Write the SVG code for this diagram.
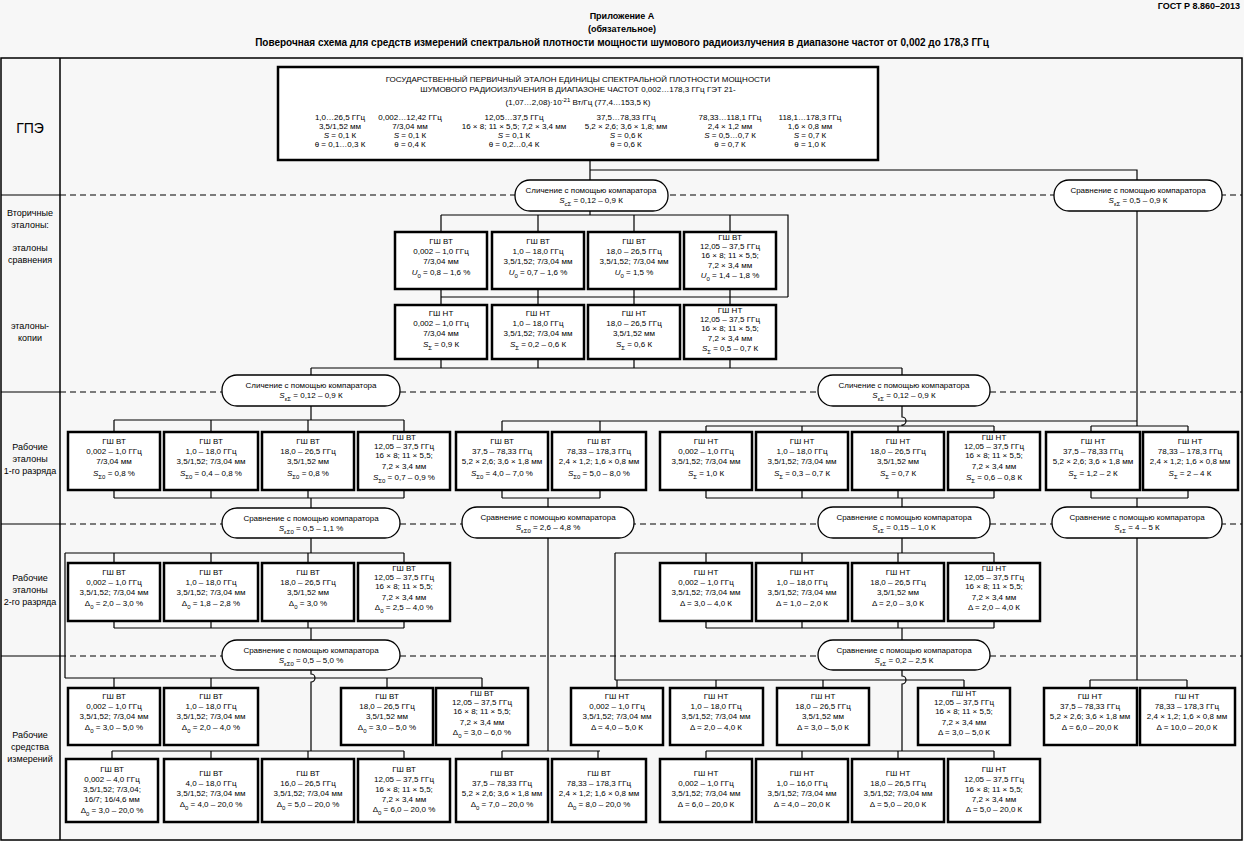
<svg xmlns="http://www.w3.org/2000/svg" width="1244" height="841" viewBox="0 0 1244 841">
<style>
text{font-family:"Liberation Sans",Arial,sans-serif;fill:#000}
.t{font-size:8px;text-anchor:middle}
.h{font-size:9px;font-weight:bold;text-anchor:middle}
.l{font-size:9px;text-anchor:middle}
.s{font-size:6px;baseline-shift:sub}
.u{font-size:6px;baseline-shift:super}
.i{font-style:italic}
.b{fill:#fff;stroke:#000;stroke-width:2.5}
.p{fill:#fff;stroke:#000;stroke-width:1.3}
.c{fill:none;stroke:#000;stroke-width:1.2}
.d{fill:none;stroke:#000;stroke-width:1.2;stroke-dasharray:6 4}
.f{fill:none;stroke:#000;stroke-width:1.5}
</style>
<rect width="1244" height="841" fill="#f7f7f7"/>
<text x="1240" y="9" style="font-size:9px;font-weight:bold;text-anchor:end">ГОСТ Р 8.860–2013</text>
<text x="622" y="19" class="h">Приложение А</text>
<text x="622" y="32" class="h">(обязательное)</text>
<text x="622" y="46" class="h" style="font-size:10px">Поверочная схема для средств измерений спектральной плотности мощности шумового радиоизлучения в диапазоне частот от 0,002 до 178,3 ГГц</text>
<g id="frame">
<rect x="1" y="58" width="1241" height="782" class="f"/>
<line x1="60" y1="58" x2="60" y2="840" class="f"/>
<line x1="1" y1="195" x2="60" y2="195" class="c"/>
<line x1="1" y1="392" x2="60" y2="392" class="c"/>
<line x1="1" y1="524" x2="60" y2="524" class="c"/>
<line x1="1" y1="656" x2="60" y2="656" class="c"/>
<line x1="60" y1="195" x2="1242" y2="195" class="d"/>
<line x1="60" y1="392" x2="1242" y2="392" class="d"/>
<line x1="60" y1="524" x2="1242" y2="524" class="d"/>
<line x1="60" y1="656" x2="1242" y2="656" class="d"/>
<text x="30" y="133" style="font-size:14px;text-anchor:middle">ГПЭ</text>
<text x="30" y="216" class="l">Вторичные</text><text x="30" y="228" class="l">эталоны:</text>
<text x="30" y="251" class="l">эталоны</text><text x="30" y="263" class="l">сравнения</text>
<text x="30" y="329" class="l">эталоны-</text><text x="30" y="341" class="l">копии</text>
<text x="30" y="450" class="l">Рабочие</text><text x="30" y="462" class="l">эталоны</text><text x="30" y="474" class="l">1-го разряда</text>
<text x="30" y="581" class="l">Рабочие</text><text x="30" y="593" class="l">эталоны</text><text x="30" y="605" class="l">2-го разряда</text>
<text x="30" y="738" class="l">Рабочие</text><text x="30" y="750" class="l">средства</text><text x="30" y="762" class="l">измерений</text>
</g>
<g id="connectors">
<path class="c" d="M590 160V180M590 170H1137V180"/>
<path class="c" d="M590 211V215M441 215H788V297M441 215V232M538 215V232M634 215V232M730 215V232M441 297H788M441 289V305M538 289V305M634 289V305M730 289V305"/>
<path class="c" d="M441 359V368M538 359V368M634 359V368M730 359V368M311 368H902M311 368V375M902 368V375"/>
<path class="c" d="M1137 211V426M502 421H1137M502 421V432M600 421V432M1091 426H1188M1091 426V432M1188 426V432"/>
<path class="c" d="M311 406V420M114 420H404M114 420V432M211 420V432M308 420V432M404 420V432"/>
<path class="c" d="M902 406V417A4 4 0 0 1 902 425V426M706 426H994M706 426V432M802 426V432M898 426V432M994 426V432"/>
<path class="c" d="M114 490V498M211 490V498M308 490V498M404 490V498M114 498H404M311 498V508"/>
<path class="c" d="M502 490V498M600 490V498M502 498H600M548 498V507"/>
<path class="c" d="M706 490V498M802 490V498M898 490V498M994 490V498M706 498H994M902 498V507"/>
<path class="c" d="M1091 490V498M1188 490V498M1091 498H1188M1137 498V507"/>
<path class="c" d="M311 538V553M65 553H404M114 553V563M211 553V563M308 553V563M404 553V563M65 553V678"/>
<path class="c" d="M114 621V628M211 621V628M308 621V628M404 621V628M114 628H404M311 628V640"/>
<path class="c" d="M311 670V674A4 4 0 0 1 311 682V751M65 678H482M114 678V688M211 678V688M387 678V688M482 678V688M112 751H404M112 751V759M211 751V759M308 751V759M404 751V759"/>
<path class="c" d="M548 538V751M502 751H600M502 751V759M598 751V759"/>
<path class="c" d="M902 538V553M615 553H994M706 553V563M802 553V563M898 553V563M994 553V563M615 553V680"/>
<path class="c" d="M706 621V628M802 621V628M898 621V628M994 621V628M706 628H994M902 628V640"/>
<path class="c" d="M902 670V676A4 4 0 0 1 902 684V751M615 680H964M617 680V688M716 680V688M823 680V688M964 680V688M706 751H994M706 751V759M802 751V759M898 751V759M994 751V759"/>
<path class="c" d="M1137 538V680M1090 680H1187M1090 680V688M1187 680V688"/>
</g>
<g id="gpe">
<rect x="278" y="67" width="600" height="93" class="b"/>
<text x="578" y="82" class="t">ГОСУДАРСТВЕННЫЙ ПЕРВИЧНЫЙ ЭТАЛОН ЕДИНИЦЫ СПЕКТРАЛЬНОЙ ПЛОТНОСТИ МОЩНОСТИ</text>
<text x="578" y="92" class="t">ШУМОВОГО РАДИОИЗЛУЧЕНИЯ В ДИАПАЗОНЕ ЧАСТОТ 0,002…178,3 ГГц ГЭТ 21-</text>
<text x="578" y="105" class="t">(1,07…2,08)·10<tspan class="u">-21</tspan> Вт/Гц (77,4…153,5 К)</text>
<text class="t"><tspan x="340" y="120">1,0…26,5 ГГц</tspan><tspan x="340" y="129">3,5/1,52 мм</tspan><tspan x="340" y="138"><tspan class="i">S</tspan> = 0,1 К</tspan><tspan x="340" y="147">θ = 0,1…0,3 К</tspan></text>
<text class="t"><tspan x="410" y="120">0,002…12,42 ГГц</tspan><tspan x="410" y="129">7/3,04 мм</tspan><tspan x="410" y="138"><tspan class="i">S</tspan> = 0,1 К</tspan><tspan x="410" y="147">θ = 0,4 К</tspan></text>
<text class="t"><tspan x="514" y="120">12,05…37,5 ГГц</tspan><tspan x="514" y="129">16 × 8; 11 × 5,5; 7,2 × 3,4  мм</tspan><tspan x="514" y="138"><tspan class="i">S</tspan> = 0,1 К</tspan><tspan x="514" y="147">θ = 0,2…0,4 К</tspan></text>
<text class="t"><tspan x="626" y="120">37,5…78,33 ГГц</tspan><tspan x="626" y="129">5,2 × 2,6; 3,6 × 1,8;  мм</tspan><tspan x="626" y="138"><tspan class="i">S</tspan> = 0,6 К</tspan><tspan x="626" y="147">θ = 0,6 К</tspan></text>
<text class="t"><tspan x="730" y="120">78,33…118,1 ГГц</tspan><tspan x="730" y="129">2,4 × 1,2  мм</tspan><tspan x="730" y="138"><tspan class="i">S</tspan> = 0,5…0,7 К</tspan><tspan x="730" y="147">θ = 0,7 К</tspan></text>
<text class="t"><tspan x="810" y="120">118,1…178,3 ГГц</tspan><tspan x="810" y="129">1,6 × 0,8  мм</tspan><tspan x="810" y="138"><tspan class="i">S</tspan> = 0,7 К</tspan><tspan x="810" y="147">θ = 1,0 К</tspan></text>
</g>
<g id="p1"><rect x="515" y="180" width="153" height="31" rx="15" class="p"/><text x="591" y="193" class="t">Сличение с помощью компаратора</text><text x="591" y="203" class="t"><tspan class="i">S</tspan><tspan class="s">cΣ</tspan> = 0,12 – 0,9 К</text></g>
<g id="p2"><rect x="1054" y="180" width="168" height="31" rx="15" class="p"/><text x="1138" y="193" class="t">Сравнение с помощью компаратора</text><text x="1138" y="203" class="t"><tspan class="i">S</tspan><tspan class="s">εΣ</tspan> = 0,5 – 0,9 К</text></g>
<g id="p3"><rect x="222" y="375" width="178" height="31" rx="15" class="p"/><text x="311" y="388" class="t">Сличение с помощью компаратора</text><text x="311" y="398" class="t"><tspan class="i">S</tspan><tspan class="s">εΣ</tspan> = 0,12 – 0,9 К</text></g>
<g id="p4"><rect x="818" y="375" width="172" height="31" rx="15" class="p"/><text x="904" y="388" class="t">Сличение с помощью компаратора</text><text x="904" y="398" class="t"><tspan class="i">S</tspan><tspan class="s">εΣ</tspan> = 0,12 – 0,9 К</text></g>
<g id="p5"><rect x="222" y="508" width="178" height="30" rx="15" class="p"/><text x="311" y="521" class="t">Сравнение с помощью компаратора</text><text x="311" y="531" class="t"><tspan class="i">S</tspan><tspan class="s">εΣ0</tspan> = 0,5 – 1,1 %</text></g>
<g id="p6"><rect x="462" y="507" width="172" height="31" rx="15" class="p"/><text x="548" y="520" class="t">Сравнение с помощью компаратора</text><text x="548" y="530" class="t"><tspan class="i">S</tspan><tspan class="s">εΣ0</tspan> = 2,6 – 4,8 %</text></g>
<g id="p7"><rect x="818" y="507" width="172" height="31" rx="15" class="p"/><text x="904" y="520" class="t">Сравнение с помощью компаратора</text><text x="904" y="530" class="t"><tspan class="i">S</tspan><tspan class="s">εΣ</tspan> = 0,15 – 1,0 К</text></g>
<g id="p8"><rect x="1052" y="507" width="170" height="31" rx="15" class="p"/><text x="1137" y="520" class="t">Сравнение с помощью компаратора</text><text x="1137" y="530" class="t"><tspan class="i">S</tspan><tspan class="s">εΣ</tspan> = 4 – 5 К</text></g>
<g id="p9"><rect x="222" y="640" width="178" height="30" rx="15" class="p"/><text x="311" y="653" class="t">Сравнение с помощью компаратора</text><text x="311" y="663" class="t"><tspan class="i">S</tspan><tspan class="s">εΣ0</tspan> = 0,5 – 5,0 %</text></g>
<g id="p10"><rect x="818" y="640" width="172" height="30" rx="15" class="p"/><text x="904" y="653" class="t">Сравнение с помощью компаратора</text><text x="904" y="663" class="t"><tspan class="i">S</tspan><tspan class="s">εΣ</tspan> = 0,2 – 2,5 К</text></g>

<g id="r1a"><rect x="395" y="232" width="92" height="57" class="b"/><text class="t"><tspan x="441" y="244">ГШ ВТ</tspan><tspan x="441" y="254">0,002 – 1,0 ГГц</tspan><tspan x="441" y="264">7/3,04 мм</tspan><tspan x="441" y="275"><tspan class="i">U</tspan><tspan class="s">0</tspan> = 0,8 – 1,6 %</tspan></text></g>
<g id="r1b"><rect x="492" y="232" width="92" height="57" class="b"/><text class="t"><tspan x="538" y="244">ГШ ВТ</tspan><tspan x="538" y="254">1,0 – 18,0 ГГц</tspan><tspan x="538" y="264">3,5/1,52; 7/3,04 мм</tspan><tspan x="538" y="275"><tspan class="i">U</tspan><tspan class="s">0</tspan> = 0,7 – 1,6 %</tspan></text></g>
<g id="r1c"><rect x="588" y="232" width="92" height="57" class="b"/><text class="t"><tspan x="634" y="244">ГШ ВТ</tspan><tspan x="634" y="254">18,0 – 26,5 ГГц</tspan><tspan x="634" y="264">3,5/1,52; 7/3,04 мм</tspan><tspan x="634" y="275"><tspan class="i">U</tspan><tspan class="s">0</tspan> = 1,5 %</tspan></text></g>
<g id="r1d"><rect x="684" y="232" width="92" height="57" class="b"/><text class="t"><tspan x="730" y="240">ГШ ВТ</tspan><tspan x="730" y="249">12,05 – 37,5 ГГц</tspan><tspan x="730" y="258">16 × 8; 11 × 5,5;</tspan><tspan x="730" y="268">7,2 × 3,4 мм</tspan><tspan x="730" y="278"><tspan class="i">U</tspan><tspan class="s">0</tspan> = 1,4 – 1,8 %</tspan></text></g>
<g id="r2a"><rect x="395" y="305" width="92" height="54" class="b"/><text class="t"><tspan x="441" y="316">ГШ НТ</tspan><tspan x="441" y="326">0,002 – 1,0 ГГц</tspan><tspan x="441" y="336">7/3,04 мм</tspan><tspan x="441" y="347"><tspan class="i">S</tspan><tspan class="s">Σ</tspan> = 0,9 К</tspan></text></g>
<g id="r2b"><rect x="492" y="305" width="92" height="54" class="b"/><text class="t"><tspan x="538" y="316">ГШ НТ</tspan><tspan x="538" y="326">1,0 – 18,0 ГГц</tspan><tspan x="538" y="336">3,5/1,52; 7/3,04 мм</tspan><tspan x="538" y="347"><tspan class="i">S</tspan><tspan class="s">Σ</tspan> = 0,2 – 0,6 К</tspan></text></g>
<g id="r2c"><rect x="588" y="305" width="92" height="54" class="b"/><text class="t"><tspan x="634" y="316">ГШ НТ</tspan><tspan x="634" y="326">18,0 – 26,5 ГГц</tspan><tspan x="634" y="336">3,5/1,52 мм</tspan><tspan x="634" y="347"><tspan class="i">S</tspan><tspan class="s">Σ</tspan> = 0,6 К</tspan></text></g>
<g id="r2d"><rect x="684" y="305" width="92" height="54" class="b"/><text class="t"><tspan x="730" y="313">ГШ НТ</tspan><tspan x="730" y="322">12,05 – 37,5 ГГц</tspan><tspan x="730" y="331">16 × 8; 11 × 5,5;</tspan><tspan x="730" y="341">7,2 × 3,4 мм</tspan><tspan x="730" y="351"><tspan class="i">S</tspan><tspan class="s">Σ</tspan> = 0,5 – 0,7 К</tspan></text></g>
<g id="r3a"><rect x="68" y="432" width="92" height="58" class="b"/><text class="t"><tspan x="114" y="444">ГШ ВТ</tspan><tspan x="114" y="454">0,002 – 1,0 ГГц</tspan><tspan x="114" y="464">7/3,04 мм</tspan><tspan x="114" y="476"><tspan class="i">S</tspan><tspan class="s">Σ0</tspan> = 0,8 %</tspan></text></g>
<g id="r3b"><rect x="164" y="432" width="94" height="58" class="b"/><text class="t"><tspan x="211" y="444">ГШ ВТ</tspan><tspan x="211" y="454">1,0 – 18,0 ГГц</tspan><tspan x="211" y="464">3,5/1,52; 7/3,04 мм</tspan><tspan x="211" y="476"><tspan class="i">S</tspan><tspan class="s">Σ0</tspan> = 0,4 – 0,8 %</tspan></text></g>
<g id="r3c"><rect x="262" y="432" width="92" height="58" class="b"/><text class="t"><tspan x="308" y="444">ГШ ВТ</tspan><tspan x="308" y="454">18,0 – 26,5 ГГц</tspan><tspan x="308" y="464">3,5/1,52 мм</tspan><tspan x="308" y="476"><tspan class="i">S</tspan><tspan class="s">Σ0</tspan> = 0,8 %</tspan></text></g>
<g id="r3d"><rect x="358" y="432" width="92" height="58" class="b"/><text class="t"><tspan x="404" y="440">ГШ ВТ</tspan><tspan x="404" y="449">12,05 – 37,5 ГГц</tspan><tspan x="404" y="458">16 × 8; 11 × 5,5;</tspan><tspan x="404" y="469">7,2 × 3,4 мм</tspan><tspan x="404" y="480"><tspan class="i">S</tspan><tspan class="s">Σ0</tspan> = 0,7 – 0,9 %</tspan></text></g>
<g id="r3e"><rect x="456" y="432" width="92" height="58" class="b"/><text class="t"><tspan x="502" y="444">ГШ ВТ</tspan><tspan x="502" y="454">37,5 – 78,33 ГГц</tspan><tspan x="502" y="464">5,2 × 2,6; 3,6 × 1,8 мм</tspan><tspan x="502" y="476"><tspan class="i">S</tspan><tspan class="s">Σ0</tspan> = 4,0 – 7,0 %</tspan></text></g>
<g id="r3f"><rect x="552" y="432" width="94" height="58" class="b"/><text class="t"><tspan x="599" y="444">ГШ ВТ</tspan><tspan x="599" y="454">78,33 – 178,3 ГГц</tspan><tspan x="599" y="464">2,4 × 1,2; 1,6 × 0,8 мм</tspan><tspan x="599" y="476"><tspan class="i">S</tspan><tspan class="s">Σ0</tspan> = 5,0 – 8,0 %</tspan></text></g>
<g id="r3g"><rect x="660" y="432" width="92" height="58" class="b"/><text class="t"><tspan x="706" y="444">ГШ НТ</tspan><tspan x="706" y="454">0,002 – 1,0 ГГц</tspan><tspan x="706" y="464">3,5/1,52; 7/3,04 мм</tspan><tspan x="706" y="476"><tspan class="i">S</tspan><tspan class="s">Σ</tspan> = 1,0 К</tspan></text></g>
<g id="r3h"><rect x="756" y="432" width="92" height="58" class="b"/><text class="t"><tspan x="802" y="444">ГШ НТ</tspan><tspan x="802" y="454">1,0 – 18,0 ГГц</tspan><tspan x="802" y="464">3,5/1,52; 7/3,04 мм</tspan><tspan x="802" y="476"><tspan class="i">S</tspan><tspan class="s">Σ</tspan> = 0,3 – 0,7 К</tspan></text></g>
<g id="r3i"><rect x="852" y="432" width="92" height="58" class="b"/><text class="t"><tspan x="898" y="444">ГШ НТ</tspan><tspan x="898" y="454">18,0 – 26,5 ГГц</tspan><tspan x="898" y="464">3,5/1,52 мм</tspan><tspan x="898" y="476"><tspan class="i">S</tspan><tspan class="s">Σ</tspan> = 0,7 К</tspan></text></g>
<g id="r3j"><rect x="948" y="432" width="92" height="58" class="b"/><text class="t"><tspan x="994" y="440">ГШ НТ</tspan><tspan x="994" y="449">12,05 – 37,5 ГГц</tspan><tspan x="994" y="458">16 × 8; 11 × 5,5;</tspan><tspan x="994" y="469">7,2 × 3,4 мм</tspan><tspan x="994" y="480"><tspan class="i">S</tspan><tspan class="s">Σ</tspan> = 0,6 – 0,8 К</tspan></text></g>
<g id="r3k"><rect x="1046" y="432" width="94" height="58" class="b"/><text class="t"><tspan x="1093" y="444">ГШ НТ</tspan><tspan x="1093" y="454">37,5 – 78,33 ГГц</tspan><tspan x="1093" y="464">5,2 × 2,6; 3,6 × 1,8 мм</tspan><tspan x="1093" y="476"><tspan class="i">S</tspan><tspan class="s">Σ</tspan> = 1,2 – 2 К</tspan></text></g>
<g id="r3l"><rect x="1143" y="432" width="95" height="58" class="b"/><text class="t"><tspan x="1190" y="444">ГШ НТ</tspan><tspan x="1190" y="454">78,33 – 178,3 ГГц</tspan><tspan x="1190" y="464">2,4 × 1,2; 1,6 × 0,8 мм</tspan><tspan x="1190" y="476"><tspan class="i">S</tspan><tspan class="s">Σ</tspan> = 2 – 4 К</tspan></text></g>
<g id="r4a"><rect x="68" y="563" width="92" height="58" class="b"/><text class="t"><tspan x="114" y="575">ГШ ВТ</tspan><tspan x="114" y="585">0,002 – 1,0 ГГц</tspan><tspan x="114" y="595">3,5/1,52; 7/3,04 мм</tspan><tspan x="114" y="606">Δ<tspan class="s">0</tspan> = 2,0 – 3,0 %</tspan></text></g>
<g id="r4b"><rect x="164" y="563" width="94" height="58" class="b"/><text class="t"><tspan x="211" y="575">ГШ ВТ</tspan><tspan x="211" y="585">1,0 – 18,0 ГГц</tspan><tspan x="211" y="595">3,5/1,52; 7/3,04 мм</tspan><tspan x="211" y="606">Δ<tspan class="s">0</tspan> = 1,8 – 2,8 %</tspan></text></g>
<g id="r4c"><rect x="262" y="563" width="92" height="58" class="b"/><text class="t"><tspan x="308" y="575">ГШ ВТ</tspan><tspan x="308" y="585">18,0 – 26,5 ГГц</tspan><tspan x="308" y="595">3,5/1,52 мм</tspan><tspan x="308" y="606">Δ<tspan class="s">0</tspan> = 3,0 %</tspan></text></g>
<g id="r4d"><rect x="358" y="563" width="92" height="58" class="b"/><text class="t"><tspan x="404" y="571">ГШ ВТ</tspan><tspan x="404" y="580">12,05 – 37,5 ГГц</tspan><tspan x="404" y="589">16 × 8; 11 × 5,5;</tspan><tspan x="404" y="600">7,2 × 3,4 мм</tspan><tspan x="404" y="610">Δ<tspan class="s">0</tspan> = 2,5 – 4,0 %</tspan></text></g>
<g id="r4e"><rect x="660" y="563" width="92" height="58" class="b"/><text class="t"><tspan x="706" y="575">ГШ НТ</tspan><tspan x="706" y="585">0,002 – 1,0 ГГц</tspan><tspan x="706" y="595">3,5/1,52; 7/3,04 мм</tspan><tspan x="706" y="606">Δ = 3,0 – 4,0 К</tspan></text></g>
<g id="r4f"><rect x="756" y="563" width="92" height="58" class="b"/><text class="t"><tspan x="802" y="575">ГШ НТ</tspan><tspan x="802" y="585">1,0 – 18,0 ГГц</tspan><tspan x="802" y="595">3,5/1,52; 7/3,04 мм</tspan><tspan x="802" y="606">Δ = 1,0 – 2,0 К</tspan></text></g>
<g id="r4g"><rect x="852" y="563" width="92" height="58" class="b"/><text class="t"><tspan x="898" y="575">ГШ НТ</tspan><tspan x="898" y="585">18,0 – 26,5 ГГц</tspan><tspan x="898" y="595">3,5/1,52 мм</tspan><tspan x="898" y="606">Δ = 2,0 – 3,0 К</tspan></text></g>
<g id="r4h"><rect x="948" y="563" width="92" height="58" class="b"/><text class="t"><tspan x="994" y="571">ГШ НТ</tspan><tspan x="994" y="580">12,05 – 37,5 ГГц</tspan><tspan x="994" y="589">16 × 8; 11 × 5,5;</tspan><tspan x="994" y="600">7,2 × 3,4 мм</tspan><tspan x="994" y="610">Δ = 2,0 – 4,0 К</tspan></text></g>
<g id="r5a"><rect x="68" y="688" width="92" height="57" class="b"/><text class="t"><tspan x="114" y="699">ГШ ВТ</tspan><tspan x="114" y="709">0,002 – 1,0 ГГц</tspan><tspan x="114" y="719">3,5/1,52; 7/3,04 мм</tspan><tspan x="114" y="730">Δ<tspan class="s">0</tspan> = 3,0 – 5,0 %</tspan></text></g>
<g id="r5b"><rect x="164" y="688" width="94" height="57" class="b"/><text class="t"><tspan x="211" y="699">ГШ ВТ</tspan><tspan x="211" y="709">1,0 – 18,0 ГГц</tspan><tspan x="211" y="719">3,5/1,52; 7/3,04 мм</tspan><tspan x="211" y="730">Δ<tspan class="s">0</tspan> = 2,0 – 4,0 %</tspan></text></g>
<g id="r5c"><rect x="341" y="688" width="92" height="57" class="b"/><text class="t"><tspan x="387" y="699">ГШ ВТ</tspan><tspan x="387" y="709">18,0 – 26,5 ГГц</tspan><tspan x="387" y="719">3,5/1,52 мм</tspan><tspan x="387" y="730">Δ<tspan class="s">0</tspan> = 3,0 – 5,0 %</tspan></text></g>
<g id="r5d"><rect x="436" y="688" width="92" height="57" class="b"/><text class="t"><tspan x="482" y="696">ГШ ВТ</tspan><tspan x="482" y="705">12,05 – 37,5 ГГц</tspan><tspan x="482" y="714">16 × 8; 11 × 5,5;</tspan><tspan x="482" y="725">7,2 × 3,4 мм</tspan><tspan x="482" y="735">Δ<tspan class="s">0</tspan> = 3,0 – 6,0 %</tspan></text></g>
<g id="r5e"><rect x="571" y="688" width="92" height="57" class="b"/><text class="t"><tspan x="617" y="699">ГШ НТ</tspan><tspan x="617" y="709">0,002 – 1,0 ГГц</tspan><tspan x="617" y="719">3,5/1,52; 7/3,04 мм</tspan><tspan x="617" y="730">Δ = 4,0 – 5,0 К</tspan></text></g>
<g id="r5f"><rect x="670" y="688" width="93" height="57" class="b"/><text class="t"><tspan x="716" y="699">ГШ НТ</tspan><tspan x="716" y="709">1,0 – 18,0 ГГц</tspan><tspan x="716" y="719">3,5/1,52; 7/3,04 мм</tspan><tspan x="716" y="730">Δ = 2,0 – 4,0 К</tspan></text></g>
<g id="r5g"><rect x="777" y="688" width="92" height="57" class="b"/><text class="t"><tspan x="823" y="699">ГШ НТ</tspan><tspan x="823" y="709">18,0 – 26,5 ГГц</tspan><tspan x="823" y="719">3,5/1,52 мм</tspan><tspan x="823" y="730">Δ = 3,0 – 5,0 К</tspan></text></g>
<g id="r5h"><rect x="918" y="688" width="92" height="57" class="b"/><text class="t"><tspan x="964" y="696">ГШ НТ</tspan><tspan x="964" y="705">12,05 – 37,5 ГГц</tspan><tspan x="964" y="714">16 × 8; 11 × 5,5;</tspan><tspan x="964" y="725">7,2 × 3,4 мм</tspan><tspan x="964" y="735">Δ = 3,0 – 5,0 К</tspan></text></g>
<g id="r5i"><rect x="1044" y="688" width="93" height="57" class="b"/><text class="t"><tspan x="1090" y="699">ГШ НТ</tspan><tspan x="1090" y="709">37,5 – 78,33 ГГц</tspan><tspan x="1090" y="719">5,2 × 2,6; 3,6 × 1,8 мм</tspan><tspan x="1090" y="730">Δ = 6,0 – 20,0 К</tspan></text></g>
<g id="r5j"><rect x="1140" y="688" width="95" height="57" class="b"/><text class="t"><tspan x="1187" y="699">ГШ НТ</tspan><tspan x="1187" y="709">78,33 – 178,3 ГГц</tspan><tspan x="1187" y="719">2,4 × 1,2; 1,6 × 0,8 мм</tspan><tspan x="1187" y="730">Δ = 10,0 – 20,0 К</tspan></text></g>
<g id="r6a"><rect x="66" y="759" width="92" height="63" class="b"/><text class="t"><tspan x="112" y="772">ГШ ВТ</tspan><tspan x="112" y="782">0,002 – 4,0 ГГц</tspan><tspan x="112" y="792">3,5/1,52; 7/3,04;</tspan><tspan x="112" y="802">16/7; 16/4,6 мм</tspan><tspan x="112" y="813">Δ<tspan class="s">0</tspan> = 3,0 – 20,0 %</tspan></text></g>
<g id="r6b"><rect x="164" y="759" width="94" height="63" class="b"/><text class="t"><tspan x="211" y="776">ГШ ВТ</tspan><tspan x="211" y="786">4,0 – 18,0 ГГц</tspan><tspan x="211" y="796">3,5/1,52; 7/3,04 мм</tspan><tspan x="211" y="807">Δ<tspan class="s">0</tspan> = 4,0 – 20,0 %</tspan></text></g>
<g id="r6c"><rect x="262" y="759" width="92" height="63" class="b"/><text class="t"><tspan x="308" y="776">ГШ ВТ</tspan><tspan x="308" y="786">16,0 – 26,5 ГГц</tspan><tspan x="308" y="796">3,5/1,52; 7/3,04 мм</tspan><tspan x="308" y="807">Δ<tspan class="s">0</tspan> = 5,0 – 20,0 %</tspan></text></g>
<g id="r6d"><rect x="358" y="759" width="92" height="63" class="b"/><text class="t"><tspan x="404" y="772">ГШ ВТ</tspan><tspan x="404" y="782">12,05 – 37,5 ГГц</tspan><tspan x="404" y="792">16 × 8; 11 × 5,5;</tspan><tspan x="404" y="802">7,2 × 3,4 мм</tspan><tspan x="404" y="812">Δ<tspan class="s">0</tspan> = 6,0 – 20,0 %</tspan></text></g>
<g id="r6e"><rect x="456" y="759" width="92" height="63" class="b"/><text class="t"><tspan x="502" y="776">ГШ ВТ</tspan><tspan x="502" y="786">37,5 – 78,33 ГГц</tspan><tspan x="502" y="796">5,2 × 2,6; 3,6 × 1,8 мм</tspan><tspan x="502" y="807">Δ<tspan class="s">0</tspan> = 7,0 – 20,0 %</tspan></text></g>
<g id="r6f"><rect x="552" y="759" width="94" height="63" class="b"/><text class="t"><tspan x="599" y="776">ГШ ВТ</tspan><tspan x="599" y="786">78,33 – 178,3 ГГц</tspan><tspan x="599" y="796">2,4 × 1,2; 1,6 × 0,8 мм</tspan><tspan x="599" y="807">Δ<tspan class="s">0</tspan> = 8,0 – 20,0 %</tspan></text></g>
<g id="r6g"><rect x="660" y="759" width="92" height="63" class="b"/><text class="t"><tspan x="706" y="776">ГШ НТ</tspan><tspan x="706" y="786">0,002 – 1,0 ГГц</tspan><tspan x="706" y="796">3,5/1,52; 7/3,04 мм</tspan><tspan x="706" y="807">Δ = 6,0 – 20,0 К</tspan></text></g>
<g id="r6h"><rect x="756" y="759" width="92" height="63" class="b"/><text class="t"><tspan x="802" y="776">ГШ НТ</tspan><tspan x="802" y="786">1,0 – 16,0 ГГц</tspan><tspan x="802" y="796">3,5/1,52; 7/3,04 мм</tspan><tspan x="802" y="807">Δ = 4,0 – 20,0 К</tspan></text></g>
<g id="r6i"><rect x="852" y="759" width="92" height="63" class="b"/><text class="t"><tspan x="898" y="776">ГШ НТ</tspan><tspan x="898" y="786">18,0 – 26,5 ГГц</tspan><tspan x="898" y="796">3,5/1,52; 7/3,04 мм</tspan><tspan x="898" y="807">Δ = 5,0 – 20,0 К</tspan></text></g>
<g id="r6j"><rect x="948" y="759" width="92" height="63" class="b"/><text class="t"><tspan x="994" y="772">ГШ НТ</tspan><tspan x="994" y="782">12,05 – 37,5 ГГц</tspan><tspan x="994" y="792">16 × 8; 11 × 5,5;</tspan><tspan x="994" y="802">7,2 × 3,4 мм</tspan><tspan x="994" y="812">Δ = 5,0 – 20,0 К</tspan></text></g>
</svg>
